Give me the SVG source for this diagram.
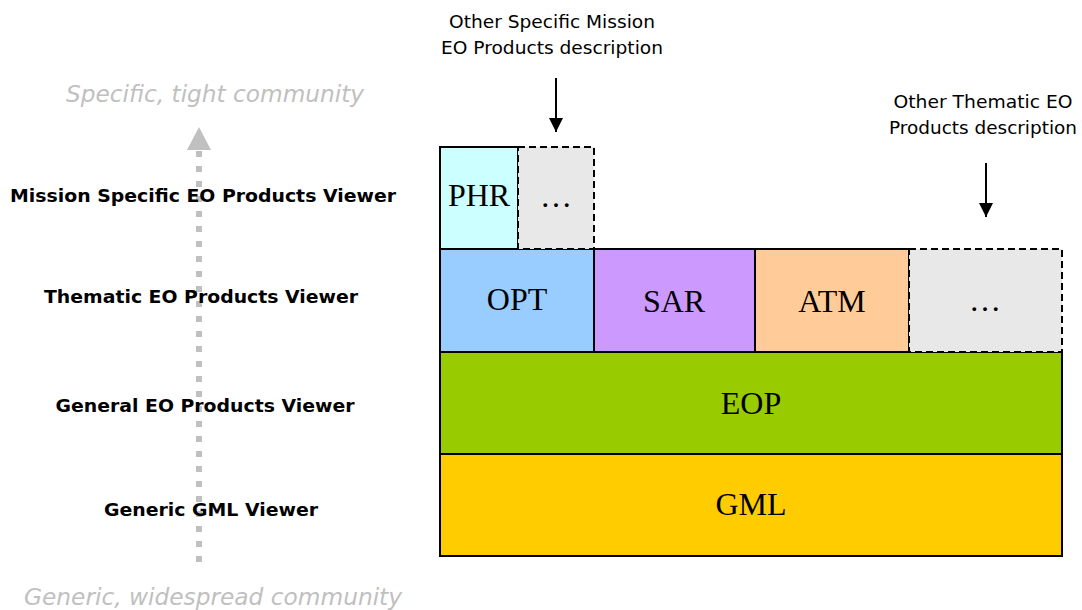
<svg xmlns="http://www.w3.org/2000/svg" width="1082" height="610" viewBox="0 0 1082 610">
<style>
.box{stroke:#000;stroke-width:2}
.dash{fill:#e8e8e8;stroke:#000;stroke-width:2;stroke-dasharray:7 4}
.bt{font-family:"Liberation Serif",serif;font-size:32px;fill:#000;text-anchor:middle}
.lbl{font-family:"DejaVu Sans",sans-serif;font-size:18px;font-weight:bold;fill:#000;text-anchor:middle}
.note{font-family:"DejaVu Sans",sans-serif;font-size:18.5px;fill:#000;text-anchor:middle}
.comm{font-family:"DejaVu Sans",sans-serif;font-size:23.4px;font-style:italic;fill:#c0c0c0;text-anchor:middle}
</style>
<defs>
<marker id="ah" markerWidth="14" markerHeight="16" refX="14" refY="7" orient="auto" markerUnits="userSpaceOnUse">
<path d="M0,0 L14,7 L0,14 Z" fill="#000"/>
</marker>
</defs>
<rect width="1082" height="610" fill="#fff"/>
<g id="scale">
<line x1="199" y1="562" x2="199" y2="150" stroke="#c0c0c0" stroke-width="6" stroke-dasharray="6 9"/>
<path d="M187,150 L199,127 L211,150 Z" fill="#c0c0c0"/>
<text class="comm" x="215" y="102" textLength="298" lengthAdjust="spacingAndGlyphs">Specific, tight community</text>
<text class="comm" x="213" y="605" textLength="378" lengthAdjust="spacingAndGlyphs">Generic, widespread community</text>
</g>
<g id="labels">
<text class="lbl" x="203" y="202" textLength="386" lengthAdjust="spacingAndGlyphs">Mission Specific EO Products Viewer</text>
<text class="lbl" x="201" y="303" textLength="314" lengthAdjust="spacingAndGlyphs">Thematic EO Products Viewer</text>
<text class="lbl" x="205" y="412" textLength="299" lengthAdjust="spacingAndGlyphs">General EO Products Viewer</text>
<text class="lbl" x="211" y="516" textLength="214" lengthAdjust="spacingAndGlyphs">Generic GML Viewer</text>
</g>
<g id="gml"><rect class="box" x="440" y="454" width="622" height="102" fill="#ffcc00"/><text class="bt" x="751" y="515">GML</text></g>
<g id="eop"><rect class="box" x="440" y="352" width="622" height="102" fill="#99cc00"/><text class="bt" x="751" y="414">EOP</text></g>
<g id="opt"><rect class="box" x="440" y="249" width="154" height="103" fill="#99ccff"/><text class="bt" x="517" y="310">OPT</text></g>
<g id="sar"><rect class="box" x="594" y="249" width="161" height="103" fill="#cc99ff"/><text class="bt" x="674" y="312">SAR</text></g>
<g id="atm"><rect class="box" x="755" y="249" width="154" height="103" fill="#ffcc99"/><text class="bt" x="832" y="312">ATM</text></g>
<g id="other-thematic"><rect class="dash" x="909" y="249" width="153" height="103"/><text class="bt" x="985" y="311">…</text></g>
<g id="phr"><rect class="box" x="440" y="147" width="78" height="102" fill="#ccffff"/><text class="bt" x="479" y="206">PHR</text></g>
<g id="other-mission"><rect class="dash" x="518" y="147" width="76" height="102"/><text class="bt" x="556" y="207">…</text></g>
<g id="notes">
<text class="note" x="552" y="28" textLength="206" lengthAdjust="spacingAndGlyphs">Other Specific Mission</text>
<text class="note" x="552" y="54" textLength="222" lengthAdjust="spacingAndGlyphs">EO Products description</text>
<text class="note" x="983" y="108" textLength="179" lengthAdjust="spacingAndGlyphs">Other Thematic EO</text>
<text class="note" x="983" y="134" textLength="188" lengthAdjust="spacingAndGlyphs">Products description</text>
</g>
<g id="connectors">
<line x1="556" y1="78" x2="556" y2="132" stroke="#000" stroke-width="2" marker-end="url(#ah)"/>
<line x1="986" y1="163" x2="986" y2="217" stroke="#000" stroke-width="2" marker-end="url(#ah)"/>
</g>
</svg>
